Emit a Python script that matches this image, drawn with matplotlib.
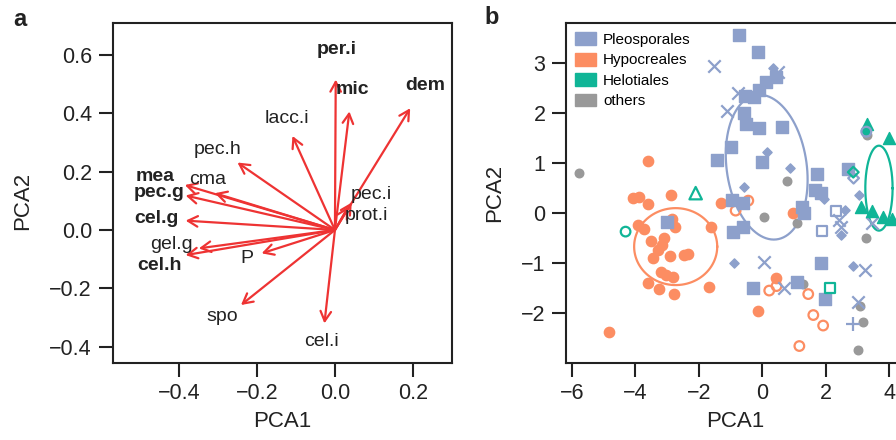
import numpy as np
import matplotlib
matplotlib.use('Agg')
import matplotlib.pyplot as plt
from matplotlib.patches import FancyArrowPatch, Patch

plt.rcParams['font.family'] = ['Liberation Sans', 'DejaVu Sans']

# panel a: PCA loadings
var_names = ['per.i', 'mic', 'dem', 'lacc.i', 'pec.h', 'mea', 'cma', 'pec.g',
             'cel.g', 'gel.g', 'cel.h', 'P', 'spo', 'cel.i', 'pec.i', 'prot.i']
var_bold = ['per.i', 'mic', 'dem', 'mea', 'pec.g', 'cel.g', 'cel.h']
tip_x = [0.002, 0.037, 0.193, -0.109, -0.250, -0.385, -0.308, -0.383,
         -0.383, -0.349, -0.383, -0.188, -0.241, -0.027, 0.043, 0.034]
tip_y = [0.515, 0.406, 0.417, 0.322, 0.231, 0.154, 0.126, 0.118,
         0.032, -0.063, -0.086, -0.080, -0.257, -0.320, 0.094, 0.080]
lab_x = [0.004, 0.046, 0.231, -0.124, -0.300, -0.462, -0.327, -0.452,
         -0.458, -0.419, -0.449, -0.227, -0.289, -0.034, 0.094, 0.081]
lab_y = [0.617, 0.480, 0.494, 0.381, 0.274, 0.183, 0.174, 0.127,
         0.040, -0.051, -0.120, -0.097, -0.295, -0.383, 0.120, 0.051]

# panel b: sample scores
# Pleosporales
pleo_sq_x = [-0.74, -0.14, 0.13, 0.43, -0.10, -0.53, -0.25, -0.58, -0.52, -0.11, 0.61,
             -0.99, -1.44, -0.02, 1.72, 1.66, 1.84, -0.95, -0.60, 1.26, 1.32, -0.93,
             -0.60, -3.00, 2.71, 1.85, 1.08, -0.28, 1.98]
pleo_sq_y = [3.56, 3.23, 2.63, 2.73, 2.47, 2.34, 2.33, 2.00, 1.78, 1.70, 1.73,
             1.32, 1.07, 1.03, 0.79, 0.46, 0.40, 0.27, 0.21, 0.13, 0.01, -0.37,
             -0.27, -0.17, 0.89, -0.99, -1.37, -1.50, -1.72]
pleo_di_x = [0.34, 0.14, 0.87, -0.57, 1.95, 3.05, 2.61, 2.48, -0.89, 2.87]
pleo_di_y = [2.90, 1.23, 0.90, 0.53, 0.29, 0.37, 0.07, -0.43, -1.00, -1.05]
pleo_x_x = [-1.52, 0.50, -0.75, -1.11, 0.05, 0.69, 3.25, 3.02, 2.43, 2.48, 3.47]
pleo_x_y = [2.95, 2.83, 2.40, 2.05, -0.97, -1.50, -1.14, -1.77, -0.13, -0.27, -0.20]
pleo_plus_x = [2.86]
pleo_plus_y = [-2.21]
pleo_osq_x = [2.32, 1.89]
pleo_osq_y = [0.05, -0.35]
pleo_odi_x = [2.88]
pleo_odi_y = [0.70]
pleo_oci_x = [3.28]
pleo_oci_y = [1.63]
pleo_ell = [0.14, 0.92, -0.32, 1.445, 1.25, 0.11]  # centre, two semi-axes

# Hypocreales
hypo_ci_x = [-3.60, -4.09, -3.88, -3.60, -2.88, -1.31, -3.91, -3.72, -2.84, -2.75,
             -1.63, -3.52, -3.09, -3.17, -3.29, -3.44, -2.91, -2.47, -2.33, -3.20,
             -3.02, -2.81, -3.60, -3.25, -2.79, -1.68, -4.84, -0.14, 0.43, 0.98]
hypo_ci_y = [1.05, 0.30, 0.33, 0.19, 0.37, 0.21, -0.23, -0.31, -0.12, -0.28,
             -0.28, -0.55, -0.49, -0.63, -0.73, -0.89, -0.86, -0.84, -0.82, -1.18,
             -1.23, -1.27, -1.40, -1.52, -1.62, -1.48, -2.37, -1.95, -1.30, 0.00]
hypo_oci_x = [-0.44, -0.84, 0.22, 0.45, 1.45, 1.61, 1.92, 1.17]
hypo_oci_y = [0.25, 0.05, -1.55, -1.46, -1.62, -2.04, -2.25, -2.66]
hypo_ell = [-2.73, -0.67, 1.31, 0.0, 0.0, 0.77]

# Helotiales
helo_tri_x = [3.29, 4.01, 3.11, 3.45, 3.80, 4.10]
helo_tri_y = [1.78, 1.50, 0.12, 0.04, -0.07, -0.12]
helo_otri_x = [-2.10]
helo_otri_y = [0.40]
helo_oci_x = [-4.31]
helo_oci_y = [-0.37]
helo_osq_x = [2.14]
helo_osq_y = [-1.50]
helo_odi_x = [2.87]
helo_odi_y = [0.82]
helo_ci_x = [3.28]
helo_ci_y = [1.66]
helo_ell = [3.68, 0.50, 0.43, 0.0, 0.0, 0.85]

# others
oth_x = [-5.78, 0.78, 0.05, 1.08, 3.27, 1.27, 3.08, 3.17, 3.03, 3.30]
oth_y = [0.81, 0.65, -0.07, -0.20, -0.49, -1.42, -1.85, -2.17, -2.73, 1.57]

groups = ['Pleosporales', 'Hypocreales', 'Helotiales', 'others']

blue = '#8DA0CB'
orange = '#FC8D62'
teal = '#10B597'
grey = '#999999'
red = '#EE3333'
dark = '#222222'


def style_axes(ax):
    for s in ax.spines.values():
        s.set_linewidth(1.5)
        s.set_color(dark)
    ax.tick_params(direction='out', length=10, width=1.5, color=dark,
                   labelsize=15.5, pad=5, labelcolor=dark)


def draw_ellipse(ax, e, color):
    t = np.linspace(0, 2 * np.pi, 200)
    xs = e[0] + e[2] * np.cos(t) + e[4] * np.sin(t)
    ys = e[1] + e[3] * np.cos(t) + e[5] * np.sin(t)
    ax.plot(xs, ys, color=color, lw=1.6, zorder=2)


fig = plt.figure(figsize=(8.96, 4.4), dpi=100)

# ---- panel a ----
ax1 = fig.add_axes([0.1258, 0.1761, 0.379, 0.771])
for i, name in enumerate(var_names):
    arr = FancyArrowPatch((0, 0), (tip_x[i], tip_y[i]),
                          arrowstyle='->,head_length=0.7,head_width=0.38',
                          mutation_scale=10, color=red, lw=1.6,
                          shrinkA=0, shrinkB=0)
    ax1.add_patch(arr)
    ax1.text(lab_x[i], lab_y[i], name, ha='center', va='center', fontsize=14,
             color=dark, fontweight='bold' if name in var_bold else 'normal')
ax1.set_xlim(-0.570, 0.301)
ax1.set_ylim(-0.454, 0.708)
ax1.set_xticks([-0.4, -0.2, 0.0, 0.2])
ax1.set_xticklabels(['\u22120.4', '\u22120.2', '0.0', '0.2'])
ax1.set_yticks([-0.4, -0.2, 0.0, 0.2, 0.4, 0.6])
ax1.set_yticklabels(['\u22120.4', '\u22120.2', '0.0', '0.2', '0.4', '0.6'])
style_axes(ax1)

# ---- panel b ----
ax2 = fig.add_axes([0.632, 0.1761, 0.378, 0.771])
draw_ellipse(ax2, pleo_ell, blue)
draw_ellipse(ax2, hypo_ell, orange)
draw_ellipse(ax2, helo_ell, teal)

ax2.scatter(oth_x, oth_y, s=38, color=grey, zorder=3)
ax2.scatter(hypo_ci_x, hypo_ci_y, s=55, color=orange, zorder=3)
ax2.scatter(hypo_oci_x, hypo_oci_y, s=48, facecolor='none', edgecolor=orange,
            linewidth=1.6, zorder=3)
ax2.scatter(pleo_sq_x, pleo_sq_y, s=64, marker='s', color=blue, zorder=3)
ax2.scatter(pleo_di_x, pleo_di_y, s=22, marker='D', color=blue, zorder=3)
ax2.scatter(pleo_x_x, pleo_x_y, s=80, marker='x', color=blue, linewidth=1.6, zorder=3)
ax2.scatter(pleo_plus_x, pleo_plus_y, s=110, marker='+', color=blue, linewidth=1.6, zorder=3)
ax2.scatter(pleo_osq_x, pleo_osq_y, s=52, marker='s', facecolor='none',
            edgecolor=blue, linewidth=1.6, zorder=3)
ax2.scatter(pleo_odi_x, pleo_odi_y, s=30, marker='D', facecolor='none',
            edgecolor=blue, linewidth=1.6, zorder=3)
ax2.scatter(helo_tri_x, helo_tri_y, s=75, marker='^', color=teal, zorder=3)
ax2.scatter(helo_ci_x, helo_ci_y, s=40, color=teal, zorder=4)
ax2.scatter(pleo_oci_x, pleo_oci_y, s=50, facecolor='none', edgecolor=blue,
            linewidth=1.6, zorder=4)
ax2.scatter(helo_otri_x, helo_otri_y, s=80, marker='^', facecolor='none',
            edgecolor=teal, linewidth=1.6, zorder=3)
ax2.scatter(helo_oci_x, helo_oci_y, s=48, facecolor='none', edgecolor=teal,
            linewidth=1.6, zorder=3)
ax2.scatter(helo_osq_x, helo_osq_y, s=52, marker='s', facecolor='none',
            edgecolor=teal, linewidth=1.6, zorder=3)
ax2.scatter(helo_odi_x, helo_odi_y, s=30, marker='D', facecolor='none',
            edgecolor=teal, linewidth=1.6, zorder=3)

handles = [Patch(color=c) for c in [blue, orange, teal, grey]]
ax2.legend(handles, groups, loc='upper left', frameon=False, fontsize=11,
           handlelength=1.35, handleheight=0.9, handletextpad=0.45,
           labelspacing=0.38, borderaxespad=0.4, borderpad=0.2)
ax2.set_xlim(-6.18, 4.50)
ax2.set_ylim(-2.99, 3.80)
ax2.set_xticks([-6, -4, -2, 0, 2, 4])
ax2.set_xticklabels(['\u22126', '\u22124', '\u22122', '0', '2', '4'])
ax2.set_yticks([-2, -1, 0, 1, 2, 3])
ax2.set_yticklabels(['\u22122', '\u22121', '0', '1', '2', '3'])
style_axes(ax2)

# labels
W, H = 896.0, 440.0
fig.text(20 / W, 1 - 19 / H, 'a', fontsize=17, fontweight='bold', ha='center', va='center', color=dark)
fig.text(492 / W, 1 - 18 / H, 'b', fontsize=17, fontweight='bold', ha='center', va='center', color=dark)
fig.text(23 / W, 1 - 201 / H, 'PCA2', fontsize=16, rotation=90, ha='center', va='center', color=dark)
fig.text(494.7 / W, 1 - 193 / H, 'PCA2', fontsize=16, rotation=90, ha='center', va='center', color=dark)
fig.text(282.5 / W, 1 - 421 / H, 'PCA1', fontsize=16, ha='center', va='center', color=dark)
fig.text(735.7 / W, 1 - 421 / H, 'PCA1', fontsize=16, ha='center', va='center', color=dark)

fig.savefig('out.png', dpi=100)
